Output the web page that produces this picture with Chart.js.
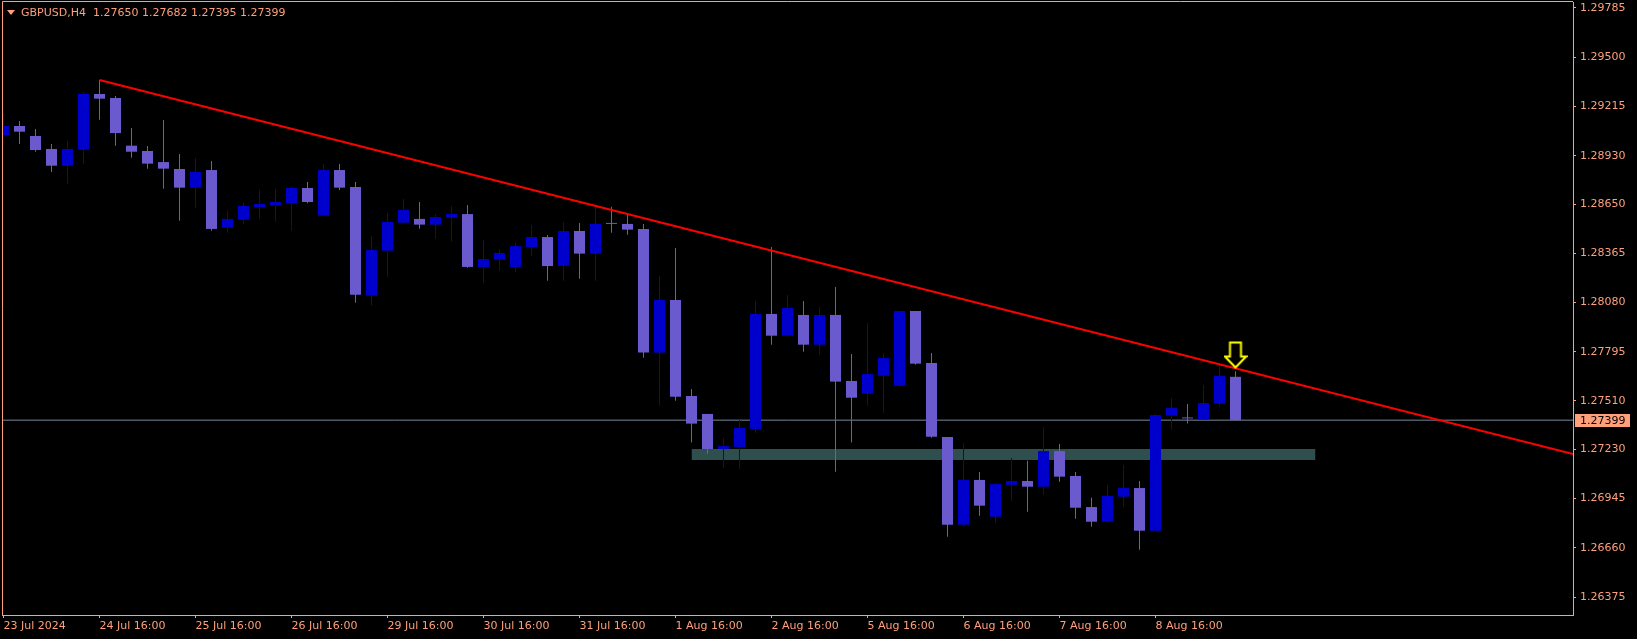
<!DOCTYPE html>
<html>
<head>
<meta charset="utf-8">
<script src="https://cdn.jsdelivr.net/npm/chart.js@4.4.1/dist/chart.umd.min.js"></script>
<style>
  html, body { margin: 0; padding: 0; background: #000; }
  #wrap { position: relative; width: 1637px; height: 639px; }
  #hdr { position: absolute; left: 21px; top: 5px; font: 11px/15px "DejaVu Sans", sans-serif; color: #FFA07A; white-space: pre; }
  #tri { position: absolute; left: 7px; top: 10px; width: 0; height: 0;
         border-left: 4px solid transparent; border-right: 4px solid transparent; border-top: 5px solid #FFA07A; }
</style>
</head>
<body>
<div id="wrap">
  <canvas id="c" width="1637" height="639"></canvas>
  <div id="tri"></div>
  <div id="hdr"></div>
</div>
<script>
// GBPUSD H4 candles, bar index 0 = 23 Jul 2024 16:00
const symbol = 'GBPUSD,H4';

const opens = [
  1.29050, 1.29102, 1.29044, 1.28969, 1.28872, 1.28965, 1.29287, 1.29264, 1.28988, 1.28957,
  1.28893, 1.28853, 1.28745, 1.28847, 1.28513, 1.28559, 1.28633, 1.28645, 1.28656, 1.28743,
  1.28583, 1.28847, 1.28749, 1.28120, 1.28380, 1.28542, 1.28564, 1.28531, 1.28571, 1.28592,
  1.28286, 1.28328, 1.28286, 1.28401, 1.28459, 1.28293, 1.28494, 1.28363, 1.28536, 1.28535,
  1.28506, 1.27790, 1.28095, 1.27539, 1.27435, 1.27232, 1.27244, 1.27348, 1.28014, 1.27888,
  1.28008, 1.27836, 1.28008, 1.27626, 1.27552, 1.27656, 1.27598, 1.28031, 1.27730, 1.27302,
  1.26794, 1.27053, 1.26840, 1.27025, 1.27047, 1.27014, 1.27220, 1.27076, 1.26896, 1.26811,
  1.26956, 1.27006, 1.26759, 1.27425, 1.27412, 1.27402, 1.27494, 1.27650
];
const highs = [
  1.29177, 1.29131, 1.29085, 1.28998, 1.29015, 1.29299, 1.29368, 1.29276, 1.29090, 1.28986,
  1.29137, 1.28940, 1.28917, 1.28899, 1.28612, 1.28656, 1.28733, 1.28737, 1.28750, 1.28778,
  1.28882, 1.28882, 1.28778, 1.28465, 1.28598, 1.28679, 1.28662, 1.28592, 1.28639, 1.28645,
  1.28442, 1.28390, 1.28425, 1.28529, 1.28471, 1.28546, 1.28540, 1.28635, 1.28635, 1.28592,
  1.28535, 1.28235, 1.28396, 1.27579, 1.27435, 1.27296, 1.27400, 1.28089, 1.28401, 1.28124,
  1.28089, 1.28054, 1.28170, 1.27782, 1.27961, 1.27788, 1.28031, 1.28031, 1.27788, 1.27302,
  1.27267, 1.27099, 1.27035, 1.27180, 1.27164, 1.27359, 1.27261, 1.27099, 1.26950, 1.27025,
  1.27139, 1.27047, 1.27436, 1.27527, 1.27493, 1.27603, 1.27718, 1.27682
];
const lows = [
  1.29040, 1.28998, 1.28953, 1.28836, 1.28768, 1.28882, 1.29138, 1.28988, 1.28918, 1.28855,
  1.28739, 1.28554, 1.28629, 1.28496, 1.28484, 1.28536, 1.28565, 1.28548, 1.28496, 1.28654,
  1.28583, 1.28731, 1.28079, 1.28062, 1.28229, 1.28536, 1.28507, 1.28449, 1.28432, 1.28282,
  1.28193, 1.28264, 1.28258, 1.28351, 1.28206, 1.28206, 1.28218, 1.28206, 1.28484, 1.28473,
  1.27761, 1.27483, 1.27512, 1.27269, 1.27205, 1.27124, 1.27116, 1.27326, 1.27836, 1.27882,
  1.27795, 1.27778, 1.27101, 1.27269, 1.27483, 1.27442, 1.27593, 1.27720, 1.27297, 1.26724,
  1.26782, 1.26846, 1.26805, 1.26933, 1.26869, 1.26967, 1.27043, 1.26829, 1.26782, 1.26805,
  1.26898, 1.26649, 1.26753, 1.27344, 1.27379, 1.27402, 1.27477, 1.27395
];
const closes = [
  1.29102, 1.29069, 1.28963, 1.28872, 1.28969, 1.29287, 1.29260, 1.29061, 1.28953, 1.28884,
  1.28855, 1.28745, 1.28836, 1.28506, 1.28564, 1.28639, 1.28650, 1.28662, 1.28743, 1.28662,
  1.28847, 1.28745, 1.28125, 1.28384, 1.28546, 1.28616, 1.28531, 1.28575, 1.28592, 1.28286,
  1.28332, 1.28367, 1.28407, 1.28459, 1.28291, 1.28494, 1.28363, 1.28535, 1.28535, 1.28502,
  1.27790, 1.28095, 1.27535, 1.27379, 1.27232, 1.27249, 1.27354, 1.28014, 1.27888, 1.28048,
  1.27836, 1.28008, 1.27622, 1.27529, 1.27666, 1.27759, 1.28031, 1.27726, 1.27303, 1.26794,
  1.27053, 1.26904, 1.27029, 1.27047, 1.27014, 1.27220, 1.27072, 1.26892, 1.26811, 1.26960,
  1.27006, 1.26759, 1.27429, 1.27469, 1.27409, 1.27498, 1.27655, 1.27399
];

// time axis labels (bar index of each label)
const xTickIdx = [0, 6, 12, 18, 24, 30, 36, 42, 48, 54, 60, 66, 72];
const xTickLabels = ['23 Jul 2024', '24 Jul 16:00', '25 Jul 16:00', '26 Jul 16:00', '29 Jul 16:00',
  '30 Jul 16:00', '31 Jul 16:00', '1 Aug 16:00', '2 Aug 16:00', '5 Aug 16:00', '6 Aug 16:00',
  '7 Aug 16:00', '8 Aug 16:00'];
const yTicks = [1.29785, 1.29500, 1.29215, 1.28930, 1.28650, 1.28365, 1.28080,
  1.27795, 1.27510, 1.27230, 1.26945, 1.26660, 1.26375];

// visible window
const X_MIN = -0.09375, X_MAX = 98.09375;
const Y_MIN = 1.262711, Y_MAX = 1.298197;

// drawn objects: trend line, support zone, signal arrow
const trendX = [6, X_MAX];
const trendY = [1.29368, 1.27203];
const zoneX = [43, 82];
const zoneTop = 1.27232, zoneBottom = 1.27168;
const arrowX = 77, arrowY = 1.27776;

const AXIS = '#FFA07A';
const BULL = '#0000CD';
const BEAR = '#6A5ACD';
const ZONE = '#2F4F4F';

const lastClose = closes[closes.length - 1];
const last = closes.length - 1;
document.getElementById('hdr').textContent = symbol + '  ' +
  [opens[last], highs[last], lows[last], closes[last]].map(v => v.toFixed(5)).join(' ');

const idx = closes.map((_, i) => i);
const colorOf = i => closes[i] > opens[i] ? BULL : BEAR;

function arrowImage() {
  const c = document.createElement('canvas');
  c.width = 24; c.height = 28;
  const g = c.getContext('2d');
  g.beginPath();
  g.moveTo(6.5, 1.5); g.lineTo(17.5, 1.5); g.lineTo(17.5, 15.5); g.lineTo(22.5, 15.5);
  g.lineTo(12, 26.5); g.lineTo(1.5, 15.5); g.lineTo(6.5, 15.5); g.closePath();
  g.fillStyle = '#000'; g.fill();
  g.strokeStyle = '#FFFF00'; g.lineWidth = 2; g.stroke();
  return c;
}

// scales must not push the plot area in to fit their edge labels
function noPad(s) {
  s.paddingLeft = 0; s.paddingRight = 0; s.paddingTop = 0; s.paddingBottom = 0;
}

// left/top frame and the current price box on the right scale
const framePlugin = {
  id: 'frame',
  afterDraw(chart) {
    const { ctx, chartArea: a, scales: { y } } = chart;
    ctx.save();
    ctx.strokeStyle = AXIS; ctx.lineWidth = 1;
    ctx.beginPath();
    ctx.moveTo(2.5, a.bottom); ctx.lineTo(2.5, 1.5); ctx.lineTo(a.right, 1.5);
    ctx.stroke();
    const py = Math.round(y.getPixelForValue(lastClose));
    ctx.fillStyle = AXIS;
    ctx.fillRect(a.right + 2, py - 6, 55, 13);
    ctx.fillStyle = '#000';
    ctx.font = '11px "DejaVu Sans"';
    ctx.textBaseline = 'middle';
    ctx.fillText(lastClose.toFixed(5), a.right + 7, py + 1);
    ctx.restore();
  }
};

Chart.defaults.font = { family: '"DejaVu Sans", sans-serif', size: 11 };
Chart.defaults.color = AXIS;

new Chart(document.getElementById('c'), {
  type: 'bar',
  data: {
    datasets: [
      { type: 'line', data: zoneX.map(x => ({ x, y: zoneTop })), fill: '+1', backgroundColor: ZONE,
        borderColor: 'transparent', borderWidth: 0, pointRadius: 0, order: 10 },
      { type: 'line', data: zoneX.map(x => ({ x, y: zoneBottom })), fill: false,
        borderColor: 'transparent', borderWidth: 0, pointRadius: 0, order: 10 },
      { type: 'line', data: [{ x: X_MIN, y: lastClose }, { x: X_MAX, y: lastClose }],
        borderColor: '#778899', borderWidth: 1, pointRadius: 0, order: 9 },
      { data: idx.map(i => ({ x: i, y: [lows[i], highs[i]] })), backgroundColor: idx.map(colorOf),
        barThickness: 1, grouped: false, inflateAmount: 0, order: 6 },
      { data: idx.map(i => ({ x: i, y: [opens[i], closes[i]] })), backgroundColor: idx.map(colorOf),
        barThickness: 11, grouped: false, minBarLength: 1, inflateAmount: 0, order: 5 },
      { type: 'line', data: trendX.map((x, i) => ({ x, y: trendY[i] })),
        borderColor: '#FF0000', borderWidth: 2, pointRadius: 0, order: 2 },
      { type: 'line', data: [{ x: arrowX, y: arrowY }], showLine: false,
        pointStyle: arrowImage(), pointRadius: 12, order: 1 }
    ]
  },
  options: {
    responsive: false,
    devicePixelRatio: 1,
    animation: false,
    events: [],
    layout: { autoPadding: false, padding: { left: 2, top: 2, right: 0, bottom: 0 } },
    plugins: { legend: { display: false }, tooltip: { enabled: false } },
    scales: {
      x: {
        type: 'linear', min: X_MIN, max: X_MAX, offset: false,
        grid: { drawOnChartArea: false, offset: false, color: AXIS, tickLength: 3 },
        border: { color: AXIS },
        afterBuildTicks: s => { s.ticks = xTickIdx.map(v => ({ value: v })); },
        afterFit: s => { s.height = 24; noPad(s); },
        ticks: {
          autoSkip: false, maxRotation: 0, minRotation: 0, align: 'start', padding: 2,
          callback: (v, i) => xTickLabels[i]
        }
      },
      y: {
        type: 'linear', position: 'right', min: Y_MIN, max: Y_MAX, beginAtZero: false,
        grid: { drawOnChartArea: false, color: AXIS, tickLength: 3 },
        border: { color: AXIS },
        afterBuildTicks: s => { s.ticks = yTicks.map(v => ({ value: v })); },
        afterFit: s => { s.width = 64; noPad(s); },
        ticks: { autoSkip: false, padding: 4, callback: v => v.toFixed(5) }
      }
    }
  },
  plugins: [framePlugin]
});
</script>
</body>
</html>
